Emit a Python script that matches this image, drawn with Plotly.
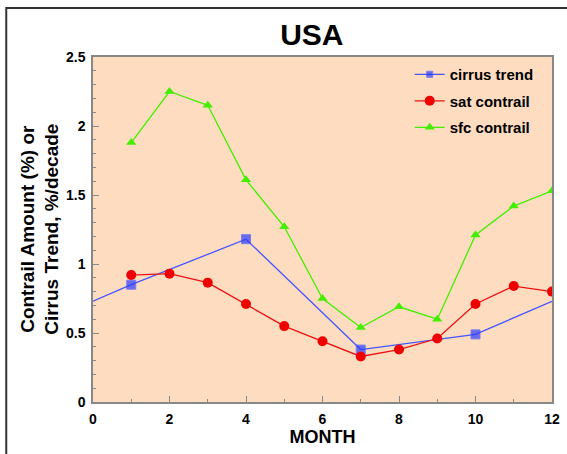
import plotly.graph_objects as go

months = [1, 2, 3, 4, 5, 6, 7, 8, 9, 10, 11, 12]
cirrus_x = [0, 1, 4, 7, 10, 12]
cirrus_trend = [0.73, 0.85, 1.18, 0.38, 0.49, 0.73]
cirrus_marker_sizes = [0, 9, 9, 9, 9, 0]
sat_contrail = [0.92, 0.93, 0.865, 0.71, 0.55, 0.44, 0.33, 0.38, 0.46, 0.71, 0.84, 0.80]
sfc_contrail = [1.88, 2.25, 2.15, 1.61, 1.27, 0.75, 0.54, 0.69, 0.60, 1.21, 1.42, 1.53]
x_ticks = [0, 2, 4, 6, 8, 10, 12]
y_ticks = [0, 0.5, 1, 1.5, 2, 2.5]
y_tick_labels = ["0", "0.5", "1", "1.5", "2", "2.5"]

FONT = "Liberation Sans, Arial, sans-serif"

fig = go.Figure()
fig.add_trace(go.Scatter(
    x=cirrus_x, y=cirrus_trend, name="cirrus trend", mode="lines+markers",
    legendgroup="a",
    line=dict(color="#4455FF", width=1.3),
    marker=dict(symbol="square", size=cirrus_marker_sizes, color="#2B3BFF"),
))
fig.add_trace(go.Scatter(
    x=months, y=sat_contrail, name="sat contrail", mode="lines+markers",
    legendgroup="b",
    line=dict(color="#EE1111", width=1.3),
    marker=dict(symbol="circle", size=10, color="#EE0000"),
))
fig.add_trace(go.Scatter(
    x=months, y=sfc_contrail, name="sfc contrail", mode="lines+markers",
    legendgroup="c",
    line=dict(color="#44EE00", width=1.3),
    marker=dict(symbol="triangle-up", size=9, color="#44EE00"),
))

axis_common = dict(
    showline=True, linecolor="#888888", linewidth=1.5, mirror=True,
    ticks="inside", tickcolor="#888888", ticklen=6, showgrid=False, zeroline=False,
    automargin=False, ticklabelstandoff=3,
    tickfont=dict(family=FONT, size=14, color="black", weight="bold"),
)

fig.update_layout(
    width=567, height=454,
    paper_bgcolor="white", plot_bgcolor="#FDDCC0",
    margin=dict(l=93, r=15, t=57, b=52, autoexpand=False),
    font=dict(family=FONT, color="black"),
    title=dict(text="<b>USA</b>", x=0.55, xanchor="center", y=0.923, yanchor="middle",
               font=dict(family=FONT, size=30, color="black")),
    xaxis=dict(range=[0, 12], tickvals=x_ticks, ticktext=[str(v) for v in x_ticks],
               minor=dict(dtick=1, ticks="inside", ticklen=3, tickcolor="#888888"),
               title=dict(text="<b>MONTH</b>", font=dict(family=FONT, size=18), standoff=4),
               **axis_common),
    yaxis=dict(range=[0, 2.5], tickvals=y_ticks, ticktext=y_tick_labels,
               minor=dict(dtick=0.1, ticks="inside", ticklen=3, tickcolor="#888888"),
               **axis_common),
    legend=dict(x=0.69, y=0.997, xanchor="left", yanchor="top", bgcolor="rgba(0,0,0,0)",
                font=dict(family=FONT, size=15, color="black", weight="bold"), tracegroupgap=4,
                itemwidth=30),
    showlegend=True,
)

fig.add_annotation(
    text="<b>Contrail Amount (%) or<br>Cirrus Trend, %/decade</b>",
    xref="paper", yref="paper", x=-0.117, y=0.50, textangle=-90,
    showarrow=False, xanchor="center", yanchor="middle",
    font=dict(family=FONT, size=19, color="black"),
)

fig.add_shape(type="rect", xref="paper", yref="paper",
              x0=-0.189, x1=1.1, y0=-0.2, y1=1.142,
              line=dict(color="#333333", width=2), fillcolor="rgba(0,0,0,0)", layer="below")

fig.write_html("out.html", config={"displayModeBar": False},
               post_script="document.body.style.margin='0';document.body.style.overflow='hidden';")
